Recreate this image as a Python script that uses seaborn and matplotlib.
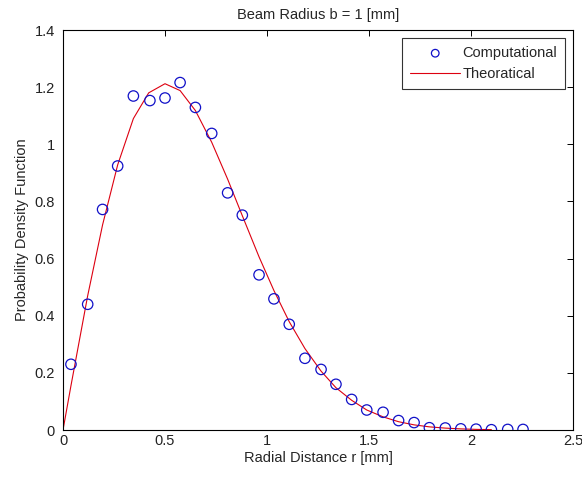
import matplotlib
matplotlib.use("Agg")
import matplotlib.pyplot as plt
import matplotlib.ticker as mticker
import seaborn as sns
import pandas as pd

# Histogram-based estimate of the radial distance PDF (bin centres)
r_comp = [0.039, 0.121, 0.194, 0.268, 0.345, 0.426, 0.500, 0.574, 0.649, 0.729,
          0.807, 0.879, 0.961, 1.034, 1.109, 1.186, 1.265, 1.338, 1.415, 1.489,
          1.569, 1.645, 1.721, 1.796, 1.874, 1.950, 2.025, 2.100, 2.180, 2.255]
pdf_comp = [0.230, 0.440, 0.772, 0.924, 1.169, 1.153, 1.162, 1.216, 1.129, 1.038,
            0.830, 0.752, 0.543, 0.459, 0.370, 0.251, 0.212, 0.160, 0.107, 0.070,
            0.062, 0.033, 0.026, 0.008, 0.007, 0.004, 0.003, 0.001, 0.002, 0.002]

# Theoretical PDF sampled at the origin and the same bin centres
r_theo = [0.0, 0.039, 0.121, 0.194, 0.268, 0.345, 0.420, 0.500, 0.574, 0.649,
          0.729, 0.807, 0.879, 0.961, 1.034, 1.109, 1.186, 1.265, 1.338, 1.415,
          1.489, 1.569, 1.645, 1.721, 1.796, 1.874, 1.950, 2.025, 2.100]
pdf_theo = [0.0, 0.155, 0.470, 0.718, 0.928, 1.090, 1.180, 1.212, 1.188, 1.118,
            1.007, 0.878, 0.750, 0.606, 0.488, 0.379, 0.285, 0.206, 0.148, 0.104,
            0.070, 0.046, 0.029, 0.018, 0.011, 0.0066, 0.0039, 0.0022, 0.0012]

x_ticks = [0, 0.5, 1, 1.5, 2, 2.5]
y_ticks = [0, 0.2, 0.4, 0.6, 0.8, 1.0, 1.2, 1.4]

FS = 10.5

sns.set_style("white")
plt.rcParams["font.family"] = ["Liberation Sans", "DejaVu Sans"]
plt.rcParams["font.size"] = FS

comp = pd.DataFrame({"r": r_comp, "pdf": pdf_comp})
theo = pd.DataFrame({"r": r_theo, "pdf": pdf_theo})

fig = plt.figure(figsize=(5.82, 4.79), dpi=100)
ax = fig.add_axes([63 / 582, 49 / 479, 510 / 582, 400 / 479])

sns.scatterplot(data=comp, x="r", y="pdf", ax=ax, marker="o", s=56,
                facecolor="none", edgecolor="#1010c8", linewidth=0.9,
                label="Computational", zorder=3)
sns.lineplot(data=theo, x="r", y="pdf", ax=ax, color="#dd0010",
             linewidth=0.8, label="Theoratical", zorder=2)

ax.set_xlim(0, 2.5)
ax.set_ylim(0, 1.4)
ax.set_xticks(x_ticks)
ax.set_yticks(y_ticks)
fmt = mticker.FuncFormatter(lambda v, p: f"{v:g}")
ax.xaxis.set_major_formatter(fmt)
ax.yaxis.set_major_formatter(fmt)
ax.tick_params(direction="in", length=4, width=0.7, top=True, right=True,
               labelsize=FS, colors="black")
ax.tick_params(axis="x", pad=3)
ax.tick_params(axis="y", pad=6)
ax.tick_params(axis="both", labelcolor="#222222")
for s in ax.spines.values():
    s.set_color("black")
    s.set_linewidth(0.8)

ax.set_title("Beam Radius b = 1 [mm]", fontsize=FS, pad=8)
ax.set_xlabel("Radial Distance r [mm]", fontsize=FS, labelpad=2)
ax.set_ylabel("Probability Density Function", fontsize=FS, labelpad=4)

leg = ax.legend(loc="upper right", fontsize=FS, frameon=True, fancybox=False,
                edgecolor="black", borderaxespad=0.55, handlelength=3.4,
                handletextpad=0.15, borderpad=0.55, labelspacing=0.5)
leg.get_frame().set_linewidth(0.8)
leg.legend_handles[0].set_sizes([30])

fig.savefig("out.png", dpi=100, facecolor="white")
